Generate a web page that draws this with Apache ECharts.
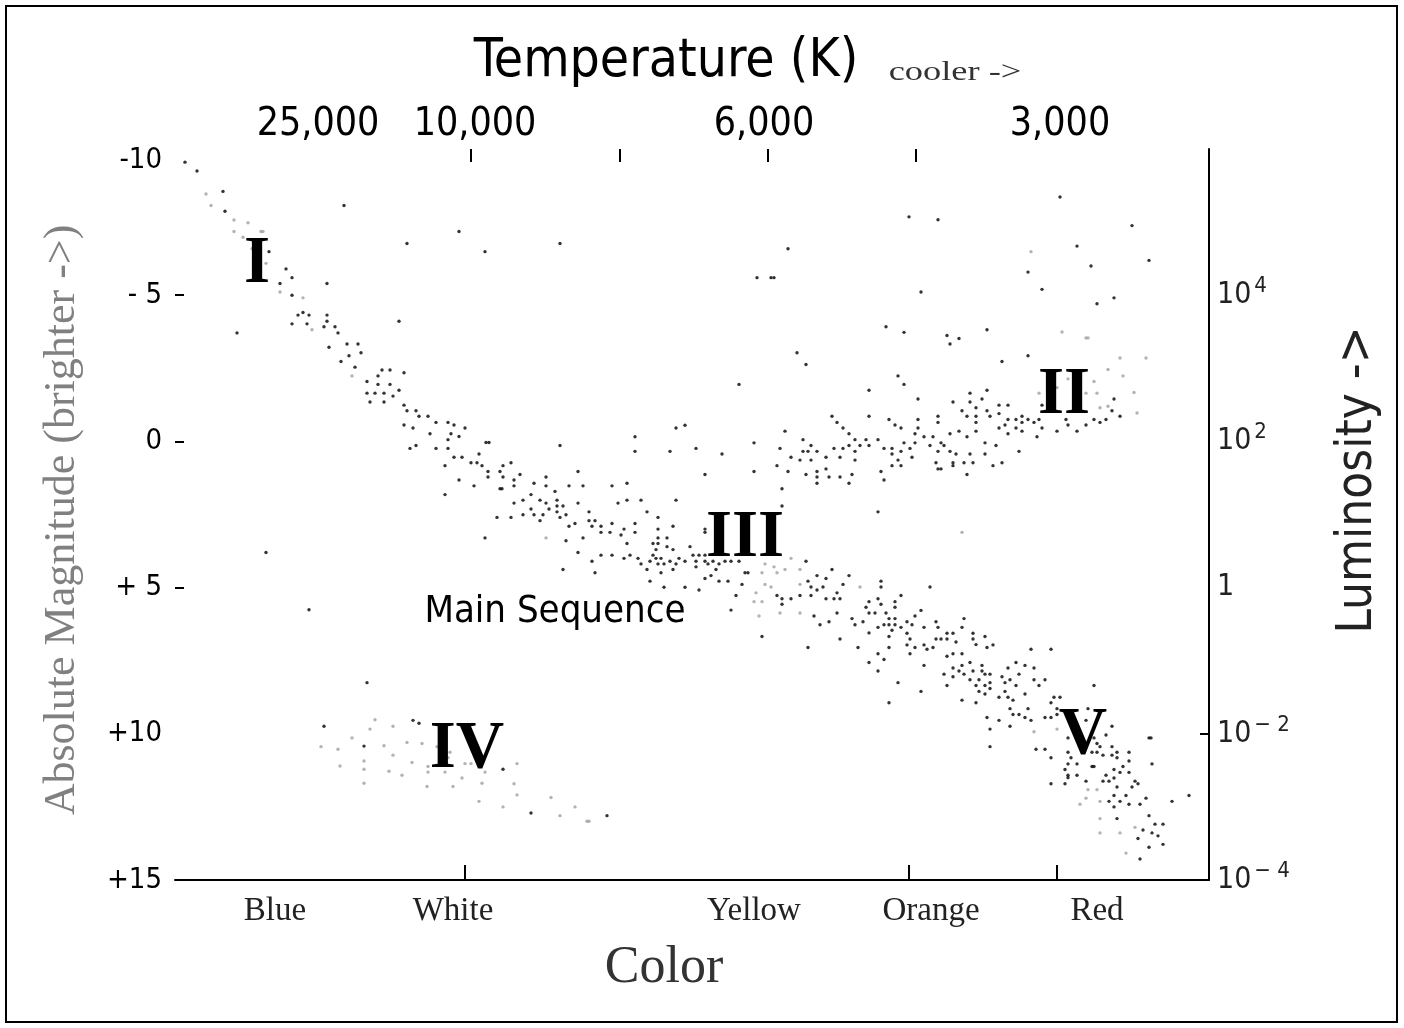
<!DOCTYPE html>
<html>
<head>
<meta charset="utf-8">
<script src="https://cdn.jsdelivr.net/npm/echarts@6/dist/echarts.min.js"></script>
<style>html,body{margin:0;padding:0;background:#fff;}#chart{width:1404px;height:1028px;}</style>
</head>
<body>
<div id="chart"></div>
<script>
// x = spectral position (hot/blue -> cool/red), y = absolute magnitude
const blackStars = [
[0.10,-9.55],[0.22,-9.25],[0.48,-8.55],[0.50,-7.87],[0.94,-6.49],[1.11,-5.90],[1.17,-5.60],[1.05,-5.40],[1.52,-5.40],[1.17,-5.00],
[1.23,-4.32],[1.28,-4.41],[1.34,-4.32],[1.52,-4.32],[1.17,-4.02],[1.32,-4.02],[1.52,-4.11],[1.49,-3.92],[1.60,-3.92],[1.63,-3.71],
[1.72,-3.33],[1.83,-3.33],[1.54,-3.22],[1.74,-2.93],[1.86,-3.03],[1.66,-2.73],[1.80,-2.54],[2.07,-2.44],[2.15,-2.44],[2.03,-2.24],
[1.92,-2.05],[2.03,-1.95],[2.15,-1.95],[2.29,-2.35],[2.24,-1.75],[1.92,-1.65],[2.00,-1.65],[2.09,-1.65],[2.18,-1.55],[0.62,-3.71],
[1.69,-8.07],[2.32,-6.77],[2.84,-7.18],[3.10,-6.49],[2.24,-4.11],
[1.95,-1.35],[2.09,-1.35],[2.29,-1.24],[2.32,-1.05],[2.41,-1.05],[2.44,-0.86],[2.53,-0.86],[2.29,-0.56],[2.38,-0.46],[2.61,-0.65],
[2.73,-0.65],[2.79,-0.56],[2.90,-0.46],[2.55,-0.26],[2.76,-0.26],[2.84,-0.17],[2.73,-0.06],[2.35,0.24],[2.41,0.14],[2.61,0.24],
[2.73,0.24],[3.11,0.04],[3.14,0.04],[3.04,0.43],[2.79,0.54],[2.87,0.54],[2.96,0.73],[3.02,0.73],[3.07,0.83],[2.70,0.83],
[3.13,1.03],[3.13,1.22],[3.25,1.03],[3.28,0.83],[3.36,0.73],[3.28,1.22],[3.39,1.32],[3.45,1.13],[2.84,1.32],[2.99,1.52],
[3.25,1.62],[3.27,1.62],[3.39,1.52],[2.70,1.82],[3.39,2.11],[3.48,2.01],[3.22,2.60],[3.36,2.60],[3.48,2.51],[3.10,3.30],
[0.91,3.80],[1.34,5.76],
[3.85,-6.77],[6.13,-6.59],[5.82,-5.60],[5.96,-5.60],[5.99,-5.60],[6.22,-3.03],[6.31,-2.63],[5.64,-1.95],[6.94,-1.75],
[8.85,-8.36],[7.34,-7.68],[7.63,-7.58],[9.57,-7.38],[9.02,-6.68],[9.74,-6.19],[9.16,-6.00],[8.53,-5.79],[8.67,-5.20],[7.46,-5.11],
[9.39,-4.91],[9.22,-4.71],[7.11,-3.92],[7.29,-3.73],[7.72,-3.62],[7.84,-3.52],[7.75,-3.33],[8.12,-3.82],[8.27,-2.73],[8.53,-2.93],
[7.23,-2.24],[7.29,-1.95],[7.95,-1.65],[8.12,-1.75],[7.43,-1.45],[8.07,-1.45],[9.39,-1.45],
[7.78,-1.35],[7.95,-1.35],[8.24,-1.24],[8.33,-1.24],[8.01,-1.15],[7.87,-1.05],[8.12,-1.05],[8.24,-0.95],[8.67,-1.24],[9.37,-1.05],
[9.45,-0.86],[9.31,-0.75],[9.19,-0.75],[9.25,-0.65],[9.11,-0.56],[9.02,-0.35],[8.93,-0.56],[8.91,-0.75],[8.82,-0.35],[8.67,-0.46],
[8.62,-0.16],[8.64,-0.75],[8.59,-0.65],[8.53,-0.75],[8.47,-0.86],[8.47,-0.65],[8.41,-0.75],[8.47,-0.35],[8.41,-0.46],[8.33,-0.75],
[8.30,-0.56],[8.24,-0.46],[8.33,-0.26],[8.15,-0.86],[8.01,-0.86],[8.01,-0.65],[7.92,-0.86],[7.63,-0.86],[7.63,-0.65],[7.43,-0.75],
[7.43,-0.46],[7.40,-0.26],[7.14,-0.75],[7.20,-0.56],[7.26,-0.46],[7.49,-0.16],[7.58,-0.16],[7.75,-0.26],[7.84,-0.35],[8.01,-0.35],
[7.92,-0.16],[8.10,0.05],[8.21,0.14],[8.44,0.34],[7.03,-0.06],[7.09,0.24],[7.17,0.24],[7.17,0.43],[7.26,0.34],[7.29,0.05],
[7.35,0.24],[7.40,0.05],[7.37,0.54],[7.23,0.64],[7.17,0.83],[7.26,0.83],[7.06,1.03],[7.09,1.32],[7.55,0.14],[7.66,0.05],
[7.69,0.14],[7.63,0.34],[7.75,0.34],[7.81,0.43],[7.95,0.43],[8.10,0.43],[7.61,0.73],[7.63,0.94],[7.66,0.94],[7.78,0.73],
[7.78,0.83],[7.89,0.73],[7.98,0.73],[7.92,1.13],[8.18,0.83],[8.27,0.73],[7.03,2.41],
[3.85,0.14],[4.60,-0.16],[4.60,0.34],[5.01,-0.46],[5.10,-0.55],[4.95,0.34],[5.21,0.24],[5.47,0.43],[5.30,1.13],[5.79,0.05],
[5.79,1.03],[6.07,1.62],[6.07,2.21],[6.02,0.83],[6.13,1.03],[6.10,-0.35],[6.05,0.24],[6.16,0.54],[6.25,0.64],[6.28,-0.06],
[6.28,0.34],[6.33,0.34],[6.36,0.14],[6.42,0.34],[6.36,0.64],[6.31,1.13],[6.42,1.03],[6.42,1.22],[6.42,1.43],[6.51,0.54],
[6.51,0.94],[6.54,1.22],[6.57,-0.86],[6.62,-0.65],[6.68,-0.46],[6.74,-0.26],[6.80,-0.06],[6.59,0.24],[6.65,0.54],[6.68,0.24],
[6.74,0.14],[6.80,0.34],[6.80,0.64],[6.65,1.22],[6.74,1.43],[6.77,1.13],[6.85,0.14],[6.91,-0.06],[6.94,-0.86],[6.94,0.14],
[3.71,1.22],[3.71,1.52],[3.59,1.43],[3.56,1.82],[3.65,2.01],[3.71,2.11],[3.56,2.31],[3.59,2.51],[3.65,2.71],[3.68,2.51],
[3.74,2.31],[3.80,1.71],[3.82,2.01],[3.82,2.21],[3.88,2.21],[3.82,2.41],[3.85,2.60],[3.91,2.51],[3.94,1.52],[4.03,1.03],
[4.08,1.52],[4.03,2.11],[4.14,2.41],[4.14,2.71],[4.20,2.71],[3.94,2.90],[4.00,2.81],[4.17,2.90],[4.26,2.90],[4.26,3.11],
[4.35,3.11],[4.37,2.81],[4.37,1.52],[4.43,2.11],[4.52,2.01],[4.52,1.43],[4.66,2.01],[4.49,3.00],[4.46,3.20],[4.60,2.81],
[4.60,3.11],[4.72,2.41],[4.83,2.60],[4.83,3.00],[4.98,2.90],[5.01,2.01],[4.83,3.30],[4.92,3.30],[4.78,3.49],[4.83,3.49],
[4.81,3.70],[4.92,3.60],[4.98,3.70],[4.52,3.49],[4.08,3.30],[3.91,3.40],[4.03,3.80],[4.26,3.89],[4.37,3.89],[4.49,4.00],
[4.55,3.89],[4.63,4.00],[4.66,4.19],[4.75,4.10],[4.78,3.89],[4.81,4.00],[4.86,4.00],[4.89,4.19],[4.83,4.19],[4.95,4.10],
[5.01,4.19],[4.98,4.38],[4.86,4.49],[4.72,4.38],[4.75,4.78],[4.89,4.99],[5.10,4.99],[5.24,5.08],[5.04,4.00],[5.10,4.10],
[5.15,3.60],[5.18,3.89],[5.24,3.89],[5.30,3.89],[5.21,4.10],[5.21,4.29],[5.30,4.10],[5.33,4.19],[5.38,4.10],[5.41,4.38],
[5.36,4.59],[5.30,4.69],[5.44,4.78],[5.53,4.78],[5.44,4.19],[5.50,4.10],[5.56,4.10],[5.64,4.10],[5.30,3.00],[5.30,3.11],
[4.17,4.10],[4.20,4.49],[3.88,4.38],[5.67,4.89],[5.61,5.27],[5.56,5.77],[5.70,4.49],[5.73,4.49],[5.87,6.67],
[6.31,4.10],[6.33,4.78],[6.36,4.98],[6.42,4.59],[6.42,5.08],[6.48,4.98],[6.51,4.69],[6.57,4.38],[6.68,4.89],[6.74,4.59],
[6.62,5.18],[6.59,5.38],[6.65,5.38],[6.51,5.38],[6.36,5.27],[6.25,5.27],[6.16,5.38],[6.07,5.38],[6.07,5.57],[6.02,5.27],
[6.94,5.48],[6.91,5.67],[6.94,5.87],[6.62,5.87],[6.39,5.97],[6.54,6.17],[6.45,6.27],[6.77,6.06],[6.80,6.27],[6.88,6.17],
[6.94,6.55],[6.65,6.76],[6.33,7.05],[6.83,7.05],
[7.06,4.78],[7.06,4.98],[7.55,4.98],[7.03,5.38],[7.06,5.57],[7.26,5.27],[7.20,5.48],[7.20,5.67],[7.46,5.78],[7.40,5.97],
[7.11,5.87],[7.00,5.87],[7.14,6.06],[7.20,6.06],[7.09,6.27],[7.14,6.27],[7.20,6.27],[7.26,6.36],[7.17,6.46],[7.03,6.36],
[7.32,6.17],[7.37,6.27],[7.32,6.56],[7.14,6.67],[7.35,6.76],[7.49,6.36],[7.61,6.17],[7.63,6.36],[7.89,6.06],[7.87,6.36],
[7.72,6.56],[7.78,6.56],[7.61,6.76],[7.66,6.76],[7.72,6.76],[7.81,6.86],[7.98,6.56],[7.98,6.76],[8.10,6.67],[8.01,6.95],
[8.18,6.96],[8.12,7.05],[7.14,7.05],[7.32,6.96],[7.40,7.05],[7.49,6.96],[7.58,7.05],[7.52,7.11],[8.56,7.11],[8.76,7.11],
[7.03,7.26],[7.09,7.46],[7.03,7.85],[7.35,7.26],[7.72,7.35],[7.78,7.26],[7.87,7.26],[7.49,7.66],[7.23,8.25],[7.14,8.94],
[7.46,8.55],[7.69,7.96],[7.72,8.35],[7.78,7.75],[7.78,8.05],[7.84,7.85],[7.87,7.66],[7.89,7.96],[7.95,7.56],[7.98,7.85],
[7.95,8.15],[8.01,8.35],[8.04,8.15],[8.07,7.66],[8.07,7.85],[8.10,7.96],[8.15,7.96],[8.10,8.35],[8.15,8.25],[8.15,8.45],
[8.04,8.55],[8.10,8.64],[7.87,8.85],[8.01,8.94],[8.27,8.05],[8.33,7.75],[8.30,8.25],[8.35,8.15],[8.41,7.56],[8.44,7.96],
[8.41,8.35],[8.50,7.66],[8.59,7.75],[8.59,8.15],[8.64,8.35],[8.70,8.15],[8.24,8.75],[8.30,8.55],[8.33,8.75],[8.38,8.85],
[8.50,8.64],[8.35,9.14],[8.38,9.34],[8.44,9.34],[8.53,9.14],[8.50,9.44],[8.56,9.54],[8.24,9.54],[8.12,9.44],[8.15,9.84],
[8.35,9.74],[8.15,10.44],[8.76,8.94],[8.79,8.75],[8.85,8.75],[8.82,9.14],[8.82,9.34],[8.70,9.44],[8.76,9.44],[9.19,8.35],
[9.13,9.14],[9.11,9.54],[9.37,9.74],[9.31,10.04],[8.93,10.14],[9.19,10.14],[9.22,10.33],[9.25,10.44],[9.17,10.63],[9.22,10.63],
[9.28,10.73],[9.37,10.44],[9.37,10.73],[9.42,10.63],[9.42,10.82],[9.54,10.63],[9.54,10.93],[8.61,10.53],[8.70,10.53],[8.76,10.82],
[8.93,10.63],[8.96,10.82],[8.93,11.03],[9.02,11.03],[8.90,11.22],[8.93,11.42],[8.93,11.50],[9.02,11.42],[9.11,11.62],[9.17,11.12],
[9.19,11.12],[9.31,11.42],[9.28,11.62],[9.34,11.62],[9.39,11.22],[9.39,11.51],[9.45,11.32],[9.48,11.12],[9.54,11.32],[9.60,11.62],
[9.63,11.71],[9.57,11.82],[9.42,11.82],[8.76,11.71],[8.90,11.71],[9.77,11.03],[9.74,10.14],[9.76,10.14],[9.39,12.11],[9.51,12.11],
[9.34,12.31],[9.45,12.31],[9.39,12.50],[9.54,12.41],[9.65,12.41],[9.71,12.20],[9.42,12.90],[9.74,12.80],[9.80,13.09],[9.88,13.09],
[9.68,13.29],[9.77,13.39],[9.83,13.49],[9.63,13.58],[9.88,13.78],[9.74,13.88],[9.65,14.28],[9.97,12.31],[10.14,12.11],
[1.92,8.25],[1.49,9.74],[2.38,9.54],[2.44,9.64],[1.89,10.42],[3.28,11.21],
[3.56,12.71],[4.32,12.80],[6.94,7.56]
];

const fadedStars = [
[0.31,-8.46],[0.36,-8.07],[0.59,-7.57],[0.73,-7.48],[0.59,-7.18],[0.68,-6.98],[0.86,-7.18],[0.88,-7.18],[0.77,-6.59],[0.91,-6.09],
[1.05,-5.11],[1.28,-4.91],[1.37,-3.82],[1.77,-2.24],
[8.56,-6.49],[8.87,-3.74],[9.11,-3.54],[9.13,-3.54],[9.45,-2.85],[9.71,-2.85],[9.33,-2.46],[9.48,-2.24],[9.19,-2.05],[8.93,-2.14],
[8.82,-1.84],[8.64,-1.65],[9.11,-1.65],[9.22,-1.65],[9.59,-1.67],[9.25,-1.15],[9.33,-1.20],[9.62,-0.97],[7.87,3.11],
[3.71,3.30],[5.90,4.19],[5.99,4.29],[5.87,4.49],[6.02,4.49],[6.10,4.38],[6.25,4.38],[6.16,4.00],[5.90,4.89],[5.96,4.98],
[6.25,4.89],[5.81,5.18],[5.79,5.48],[5.87,5.48],[5.84,5.97],[6.05,5.87],[6.25,5.87],[6.85,4.98],
[9.22,11.91],[9.13,11.91],[9.11,12.20],[9.05,12.41],[9.25,12.31],[9.25,12.90],[9.25,13.39],[9.45,13.39],[9.60,13.20],[9.51,14.08],
[8.59,9.93],[8.82,9.84],
[2.00,9.52],[1.95,9.84],[2.18,9.74],[1.77,10.14],[1.46,10.44],[1.63,10.53],[2.09,10.41],[2.32,10.30],[2.47,10.33],[2.62,10.44],
[2.75,10.63],[2.18,10.73],[1.89,10.93],[1.89,11.21],[1.65,11.10],[2.14,11.28],[2.27,11.42],[2.37,10.98],[2.53,11.12],[2.53,11.31],
[2.73,10.82],[2.70,11.31],[2.90,11.02],[2.96,11.02],[3.10,11.31],[1.89,11.69],[2.52,11.80],[2.78,11.80],[2.87,11.51],[3.07,11.69],
[3.04,12.31],[3.28,12.50],[3.39,11.71],[3.42,12.09],[3.42,11.02],
[3.76,12.18],[4.00,12.50],[3.85,12.80],[4.12,12.99],[4.14,12.99]
];

const colorNames = ['Blue', 'White', 'Yellow', 'Orange', 'Red'];
const colorPos = [1.00, 2.78, 5.79, 7.56, 9.22];
const colorTicks = [2.90, 7.34, 8.82];
const tempLabels = ['25,000', '10,000', '6,000', '3,000'];
const tempPos = [1.43, 3.00, 5.89, 8.85];
const tempTicks = [2.96, 4.45, 5.93, 7.41];
const magValues = [-10, -5, 0, 5, 10, 15];
const magLabels = ['-10', '- 5', '0', '+ 5', '+10', '+15'];
const magTicks = [-5, 0, 5];
const lumValues = [-5, 0, 5, 10, 15];
const lumBase = ['10', '10', '1', '10', '10'];
const lumExp = ['4', '2', '', '\u2212 2', '\u2212 4'];
const lumTicks = [10];
const regionNames = ['I', 'II', 'III', 'IV', 'V'];
const regionPos = [[0.82, -6.13], [8.89, -1.68], [5.70, 3.22], [2.92, 10.45], [9.08, 9.97]];
const sequenceLabel = ['Main Sequence', 3.80, 5.75];

function lookup(vals, labels) {
  return function (v) {
    for (let i = 0; i < vals.length; i++) if (Math.abs(vals[i] - v) < 1e-6) return labels[i];
    return '';
  };
}
function magFormatter(v) {
  const t = lookup(magValues, magLabels)(v);
  if (!t) return '';
  return (v === magValues[0]) ? '{low|' + t + '}' : t;
}
function lumFormatter(v) {
  for (let i = 0; i < lumValues.length; i++) {
    if (Math.abs(lumValues[i] - v) < 1e-6) {
      return '{b|' + lumBase[i] + '}' + (lumExp[i] ? '{e|' + lumExp[i] + '}' : '');
    }
  }
  return '';
}

const sans = '"DejaVu Sans Condensed", "DejaVu Sans", sans-serif';
const serif = '"Liberation Serif", "DejaVu Serif", serif';

const chart = echarts.init(document.getElementById('chart'));
chart.setOption({
  animation: false,
  backgroundColor: '#fff',
  grid: { left: 175, right: 195, top: 149, bottom: 148, containLabel: false },
  xAxis: [
    {
      type: 'value', position: 'bottom', min: 0, max: 10.34,
      splitLine: { show: false },
      axisLine: { show: true, onZero: false, lineStyle: { color: '#000', width: 2 } },
      axisTick: { show: true, inside: true, length: 15, customValues: colorTicks, lineStyle: { color: '#000', width: 2 } },
      axisLabel: { show: true, customValues: colorPos, formatter: lookup(colorPos, colorNames), margin: 15,
        fontFamily: serif, fontSize: 33, color: '#222' }
    },
    {
      type: 'value', position: 'top', min: 0, max: 10.34,
      splitLine: { show: false },
      axisLine: { show: false, onZero: false },
      axisTick: { show: true, inside: true, length: 13, customValues: tempTicks, lineStyle: { color: '#000', width: 2 } },
      axisLabel: { show: true, customValues: tempPos, formatter: lookup(tempPos, tempLabels), margin: 5,
        fontFamily: sans, fontSize: 39, color: '#000' }
    }
  ],
  yAxis: [
    {
      type: 'value', position: 'left', inverse: true, min: -10, max: 15,
      splitLine: { show: false },
      axisLine: { show: false, onZero: false },
      axisTick: { show: true, inside: true, length: 9, customValues: magTicks, lineStyle: { color: '#000', width: 2 } },
      axisLabel: { show: true, customValues: magValues, formatter: magFormatter, margin: 13,
        fontFamily: sans, fontSize: 29, color: '#000',
        rich: { low: { fontFamily: sans, fontSize: 29, color: '#000', padding: [22, 0, 0, 0] } } }
    },
    {
      type: 'value', position: 'right', inverse: true, min: -10, max: 15,
      splitLine: { show: false },
      axisLine: { show: true, onZero: false, lineStyle: { color: '#000', width: 2 } },
      axisTick: { show: true, inside: true, length: 9, customValues: lumTicks, lineStyle: { color: '#000', width: 2 } },
      axisLabel: { show: true, customValues: lumValues, formatter: lumFormatter, margin: 8,
        fontFamily: sans, fontSize: 30, color: '#222',
        rich: {
          b: { fontFamily: sans, fontSize: 30, color: '#222' },
          e: { fontFamily: sans, fontSize: 22, color: '#222', padding: [0, 0, 18, 3] }
        } }
    }
  ],
  series: [
    {
      type: 'scatter', name: 'faded', xAxisIndex: 0, yAxisIndex: 0, data: fadedStars,
      symbol: 'circle', symbolSize: 3.4, itemStyle: { color: '#a0a0a0' }, silent: true, z: 2
    },
    {
      type: 'scatter', name: 'stars', xAxisIndex: 0, yAxisIndex: 0, data: blackStars,
      symbol: 'circle', symbolSize: 3.4, itemStyle: { color: '#000' }, silent: true, z: 3
    },
    {
      type: 'scatter', name: 'regions', xAxisIndex: 0, yAxisIndex: 0,
      data: regionNames.map((n, i) => ({ name: n, value: regionPos[i] })),
      symbolSize: 1, itemStyle: { color: 'rgba(0,0,0,0)' }, silent: true, z: 5,
      label: { show: true, position: 'inside', offset: [0, 3], formatter: '{b}', fontFamily: serif, fontWeight: 'bold', fontSize: 67, color: '#000', opacity: 1, textBorderWidth: 0 }
    },
    {
      type: 'scatter', name: 'sequence', xAxisIndex: 0, yAxisIndex: 0,
      data: [{ name: sequenceLabel[0], value: [sequenceLabel[1], sequenceLabel[2]] }],
      symbolSize: 1, itemStyle: { color: 'rgba(0,0,0,0)' }, silent: true, z: 5,
      label: { show: true, position: 'inside', offset: [0, 3], formatter: '{b}', fontFamily: sans, fontSize: 38, color: '#000', opacity: 1, textBorderWidth: 0 }
    }
  ],
  graphic: [
    { type: 'rect', shape: { x: 6, y: 6, width: 1391, height: 1016 }, style: { fill: 'none', stroke: '#000', lineWidth: 2 }, silent: true },
    { type: 'text', x: 666, y: 62, style: { text: 'Temperature (K)', font: '53px ' + sans, fill: '#000', textAlign: 'center', textVerticalAlign: 'middle' } },
    { type: 'text', x: 955, y: 73, scaleX: 1.3, style: { text: 'cooler ->', font: '28px ' + serif, fill: '#333', textAlign: 'center', textVerticalAlign: 'middle' } },
    { type: 'text', x: 664, y: 968, style: { text: 'Color', font: '52px ' + serif, fill: '#333', textAlign: 'center', textVerticalAlign: 'middle' } },
    { type: 'text', x: 62, y: 520, rotation: Math.PI / 2, style: { text: 'Absolute Magnitude (brighter ->)', font: '44px ' + serif, fill: '#808080', textAlign: 'center', textVerticalAlign: 'middle' } },
    { type: 'text', x: 1358, y: 480, rotation: Math.PI / 2, style: { text: 'Luminosity ->', font: '49px ' + sans, fill: '#222', textAlign: 'center', textVerticalAlign: 'middle' } }
  ]
});
</script>
</body>
</html>
